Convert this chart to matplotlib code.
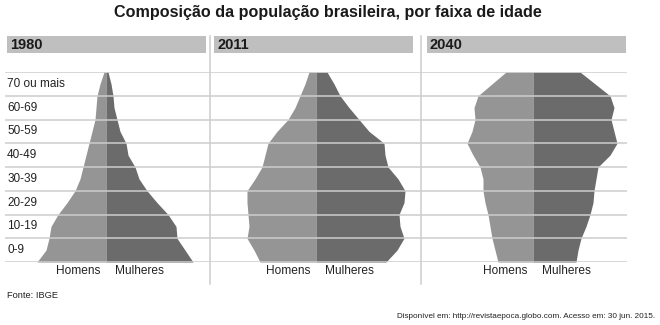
import matplotlib
matplotlib.use("Agg")
import matplotlib.pyplot as plt
from matplotlib.patches import Rectangle
from matplotlib.lines import Line2D

plt.rcParams['font.family'] = ['Liberation Sans', 'DejaVu Sans']

# ---------------------------------------------------------------------------
# Data: half-widths of the pyramid outline
# (levels in age-band units, 0 = bottom of "0-9", 8 = top of "70 ou mais")
# ---------------------------------------------------------------------------
AGE_LABELS = ["0-9", "10-19", "20-29", "30-39", "40-49", "50-59", "60-69", "70 ou mais"]
LEVELS = [0, 0.5, 1, 1.5, 2, 2.5, 3, 3.5, 4, 4.5, 5, 5.5, 6, 6.5, 7, 7.5, 8]
YEARS = ["1980", "2011", "2040"]

men_1980   = [69, 60, 57, 55, 48, 39, 31, 26, 23, 20, 17, 14, 11, 10, 9, 6, 2]
women_1980 = [87, 79, 71, 70, 62, 51, 41, 33, 29, 22, 20, 14, 11, 8, 7, 5, 2]

men_2011   = [56, 62, 69, 67, 68, 69, 69, 61, 54, 51, 48, 39, 28, 21, 16, 11, 7]
women_2011 = [70, 81, 88, 84, 83, 88, 89, 82, 72, 69, 68, 53, 43, 33, 24, 18, 11]

men_2040   = [35, 38, 41, 43, 45, 48, 50, 50, 53, 60, 66, 61, 58, 59, 55, 41, 27]
women_2040 = [43, 45, 48, 53, 57, 60, 61, 63, 65, 77, 84, 81, 78, 81, 77, 62, 47]

MEN = [men_1980, men_2011, men_2040]
WOMEN = [women_1980, women_2011, women_2040]

# ---------------------------------------------------------------------------
W, H = 660, 325
MEN_COL = "#959595"
WOMEN_COL = "#6b6b6b"
GRID_COL = "#cdcdcd"
HEAD_COL = "#bfbfbf"

fig = plt.figure(figsize=(W / 100, H / 100), dpi=100)
fig.patch.set_facecolor("white")

def fx(px):
    return px / W

def fy(py):
    return 1 - py / H

# panel bounds in pixels: (left, right, centre)
panels = [(5, 210, 106), (210, 421, 316), (421, 627, 533)]
heads = [(7, 206), (214, 413), (427, 626)]
y_top, y_bot = 72, 262

for i, ((left, right, ctr), year) in enumerate(zip(panels, YEARS)):
    ax = fig.add_axes([fx(left), fy(y_bot), fx(right - left), (y_bot - y_top) / H])
    ax.set_xlim(left - ctr, right - ctr)
    ax.set_ylim(0, 8)
    ax.axis("off")

    ax.fill_betweenx(LEVELS, [-m for m in MEN[i]], 0, color=MEN_COL, lw=0)
    ax.fill_betweenx(LEVELS, 0, WOMEN[i], color=WOMEN_COL, lw=0)

    for k in range(len(AGE_LABELS) + 1):
        ax.axhline(k, color=GRID_COL, lw=1.1, zorder=3)

    ax.text(-28, -0.38, "Homens", ha="center", va="center", fontsize=8.6, color="#222222")
    ax.text(33, -0.38, "Mulheres", ha="center", va="center", fontsize=8.6, color="#222222")

    if i == 0:
        for k, lab in enumerate(AGE_LABELS):
            ax.text(0.01, (k + 0.5) / 8, lab, transform=ax.transAxes,
                    ha="left", va="center", fontsize=8.5, color="#222222", zorder=4)

    # header bar
    hl, hr = heads[i]
    fig.add_artist(Rectangle((fx(hl), fy(53)), fx(hr - hl), (53 - 36) / H,
                             transform=fig.transFigure, color=HEAD_COL, lw=0))
    fig.text(fx(hl + 3), fy(45), year, ha="left", va="center",
             fontsize=10.5, fontweight="bold", color="#1a1a1a")

# dividers
for xd in (210, 421):
    fig.add_artist(Line2D([fx(xd), fx(xd)], [fy(36), fy(284)],
                          transform=fig.transFigure, color=GRID_COL, lw=1.1))

fig.text(fx(328), fy(12.5), "Composição da população brasileira, por faixa de idade",
         ha="center", va="center", fontsize=11.6, fontweight="bold", color="#1a1a1a")
fig.text(fx(7), fy(296), "Fonte: IBGE", ha="left", va="center", fontsize=6.7, color="#222222")
fig.text(fx(655), fy(316), "Disponível em: http://revistaepoca.globo.com. Acesso em: 30 jun. 2015.",
         ha="right", va="center", fontsize=5.9, color="#222222",
         family=["Liberation Sans Narrow", "Liberation Sans", "DejaVu Sans"])

fig.savefig("out.png", dpi=100)
